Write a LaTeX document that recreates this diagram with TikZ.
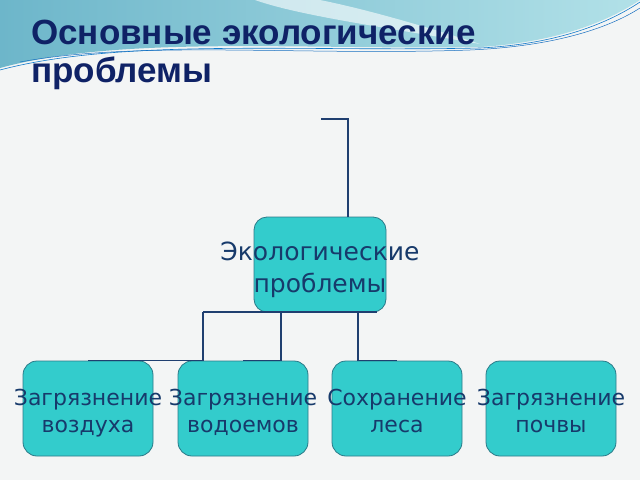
\documentclass[tikz,border=0pt]{standalone}
\usepackage{fontspec}
\setmainfont{DejaVu Sans}
\newfontfamily\titlefont{Liberation Sans}
\usepackage{xcolor}

\definecolor{navy}{HTML}{0F2266}
\definecolor{linkblue}{HTML}{1F3F70}
\definecolor{boxfill}{HTML}{33CCCC}
\definecolor{boxline}{HTML}{2B7A88}
\definecolor{textblue}{HTML}{173A6B}
\definecolor{paper}{HTML}{F3F5F5}
\definecolor{wavedark}{HTML}{6DB6CA}
\definecolor{wavelight}{HTML}{B2E1E8}

\tikzset{
  topic/.style={draw=boxline, fill=boxfill, rounded corners=13pt, line width=0.8pt,
    minimum width=132pt, minimum height=95pt, inner sep=0pt},
  leaf/.style={draw=boxline, fill=boxfill, rounded corners=14pt, line width=0.8pt,
    minimum width=130pt, minimum height=95pt, inner sep=0pt},
  caption/.style={text=textblue, align=center, inner sep=0pt, anchor=north},
  link/.style={draw=linkblue, line width=1.6pt}
}

\begin{document}
\begin{tikzpicture}[x=1pt, y=-1pt]

        % Hintergrund
        \fill[paper] (0,0) rectangle (640,480);
        \useasboundingbox (0,0) rectangle (640,480);
        \shade[left color=wavedark, right color=wavelight]
          (0,0) -- (640,0) .. controls (610,20) and (560,42) .. (480,47)
          .. controls (300,50) and (120,35) .. (0,68) -- cycle;
        \fill[white, opacity=0.6]
          (255,0) .. controls (300,16) and (390,28) .. (480,44)
          .. controls (405,20) and (355,7) .. (320,0) -- cycle;
        \draw[cyan!60!blue, line width=0.6pt]
          (0,70) .. controls (120,38) and (300,52) .. (480,48) .. controls (560,44) and (610,22) .. (640,2);
        \draw[cyan!50!blue, line width=0.5pt]
          (20,62) .. controls (140,40) and (300,56) .. (470,50) .. controls (560,46) and (612,26) .. (640,8);

        % Titel
        \node[anchor=north west, text=navy, align=left, font=\titlefont\bfseries\fontsize{35}{38}\selectfont,
          inner sep=0pt] (title) at (31,20) {Основные экологические\\проблемы};

        % Kästen
        \node[topic] (eco) at (320,264.5) {};
        \node[caption, font=\fontsize{25}{32}\selectfont] (ecotext) at ([yshift=-25pt]eco.north) {Экологические\\проблемы};

        \node[leaf] (air) at (88,408.5) {};
        \node[leaf] (water) at (243,408.5) {};
        \node[leaf] (forest) at (397,408.5) {};
        \node[leaf] (soil) at (551,408.5) {};

        \node[caption, font=\fontsize{22}{27}\selectfont] (airtext) at ([yshift=-28pt]air.north) {Загрязнение\\воздуха};
        \node[caption, font=\fontsize{22}{27}\selectfont] (watertext) at ([yshift=-28pt]water.north) {Загрязнение\\водоемов};
        \node[caption, font=\fontsize{22}{27}\selectfont] (foresttext) at ([yshift=-28pt]forest.north) {Сохранение\\леса};
        \node[caption, font=\fontsize{22}{27}\selectfont] (soiltext) at ([yshift=-28pt]soil.north) {Загрязнение\\почвы};

        % Verbindungen
        \coordinate (start) at (321,119);
        \coordinate (entry) at (348,217);
        \coordinate (j1) at (203,312);
        \coordinate (j2) at (281,312);
        \coordinate (j3) at (358,312);
        \coordinate (busend) at (377,312);

        \draw[link] (start) -| (entry);
        \draw[link] (j1) -- (busend);
        \draw[link] (air.north) -| (j1);
        \draw[link] (water.north) -| (j2);
        \draw[link] (forest.north) -| (j3);

    \end{tikzpicture}
\end{document}
